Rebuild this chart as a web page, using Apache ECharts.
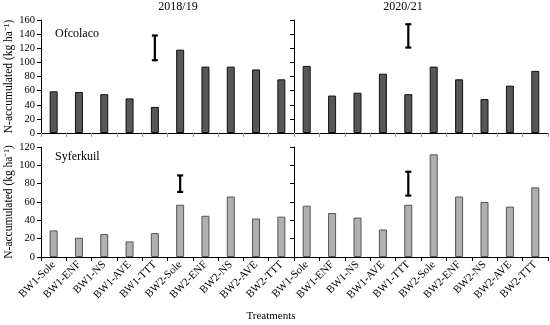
<!DOCTYPE html>
<html><head><meta charset="utf-8">
<script src="https://cdn.jsdelivr.net/npm/echarts@6/dist/echarts.min.js"></script>
<style>html,body{margin:0;padding:0;background:#fff}#c{width:550px;height:325px}</style>
</head><body><div id="c"></div>
<script>
const categories = ['BW1-Sole','BW1-ENF','BW1-NS','BW1-AVE','BW1-TTT','BW2-Sole','BW2-ENF','BW2-NS','BW2-AVE','BW2-TTT'];
const ofcolaco2018 = [59, 58, 55, 49, 37, 118, 94, 94, 90, 76];
const ofcolaco2020 = [95, 53, 57, 84, 55, 94, 76, 48, 67, 88];
const syferkuil2018 = [29, 21, 25, 17, 26, 57, 45, 66, 42, 44];
const syferkuil2020 = [56, 48, 43, 30, 57, 112, 66, 60, 55, 76];
// LSD bars: [category index, low, high]
const lsdOfc2018 = [[4, 103, 138]];
const lsdOfc2020 = [[4, 121, 154]];
const lsdSyf2018 = [[5, 71, 89]];
const lsdSyf2020 = [[4, 67, 93]];

const FONT = 'Liberation Serif';
const chart = echarts.init(document.getElementById('c'), null, {renderer: 'canvas'});
const grids = [
  {left: 41, width: 253, top: 20, height: 113},
  {left: 294, width: 254, top: 20, height: 113},
  {left: 41, width: 253, top: 147, height: 110},
  {left: 294, width: 254, top: 147, height: 110}
];
function xAx(i, showLabel) {
  return {
    type: 'category', gridIndex: i, data: categories,
    axisLine: {lineStyle: {color: '#000', width: 1}},
    axisTick: {show: true, length: 4, lineStyle: {color: showLabel ? '#000' : '#999'}},
    axisLabel: {show: showLabel, rotate: 45, fontFamily: FONT, fontSize: 11, color: '#000', margin: 6, interval: 0}
  };
}
const yName = 'N-accumulated (kg ha\u207B\u00B9)';
function yAx(i, max, showLabel) {
  return {
    type: 'value', gridIndex: i, min: 0, max: max, interval: 20,
    splitLine: {show: false},
    axisLine: {show: true, lineStyle: {color: '#000', width: 1}},
    axisTick: {show: true, length: 4, lineStyle: {color: '#000'}},
    axisLabel: {show: showLabel, fontFamily: FONT, fontSize: 10.5, color: '#000', margin: 6},
    name: showLabel ? yName : '', nameLocation: 'middle', nameGap: 26,
    nameTextStyle: {fontFamily: FONT, fontSize: 11.5, color: '#000'}
  };
}
function bars(i, data, dark) {
  return {
    type: 'bar', xAxisIndex: i, yAxisIndex: i, data: data, barWidth: 8,
    itemStyle: dark ? {color: '#575757', borderColor: '#111', borderWidth: 1}
                    : {color: '#b3afaf', borderColor: '#555', borderWidth: 1},
    silent: true
  };
}
function lsd(i, data) {
  return {
    type: 'custom', xAxisIndex: i, yAxisIndex: i, data: data,
    renderItem: function (params, api) {
      const lo = api.coord([api.value(0), api.value(1)]);
      const hi = api.coord([api.value(0), api.value(2)]);
      const x = lo[0], w = 3;
      const st = {stroke: '#000', lineWidth: 2.2};
      return {type: 'group', children: [
        {type: 'line', shape: {x1: x, y1: lo[1], x2: x, y2: hi[1]}, style: st},
        {type: 'line', shape: {x1: x - w, y1: lo[1], x2: x + w, y2: lo[1]}, style: st},
        {type: 'line', shape: {x1: x - w, y1: hi[1], x2: x + w, y2: hi[1]}, style: st}
      ]};
    }
  };
}
chart.setOption({
  animation: false,
  grid: grids,
  xAxis: [xAx(0, false), xAx(1, false), xAx(2, true), xAx(3, true)],
  yAxis: [yAx(0, 160, true), yAx(1, 160, false), yAx(2, 120, true), yAx(3, 120, false)],
  series: [
    bars(0, ofcolaco2018, true), bars(1, ofcolaco2020, true),
    bars(2, syferkuil2018, false), bars(3, syferkuil2020, false),
    lsd(0, lsdOfc2018), lsd(1, lsdOfc2020), lsd(2, lsdSyf2018), lsd(3, lsdSyf2020)
  ],
  graphic: [
    {type: 'text', x: 178, y: 7, style: {text: '2018/19', fontFamily: FONT, fontSize: 12, fill: '#000', align: 'center', verticalAlign: 'middle'}},
    {type: 'text', x: 403, y: 7, style: {text: '2020/21', fontFamily: FONT, fontSize: 12, fill: '#000', align: 'center', verticalAlign: 'middle'}},
    {type: 'text', x: 55, y: 34, style: {text: 'Ofcolaco', fontFamily: FONT, fontSize: 12, fill: '#000', align: 'left', verticalAlign: 'middle'}},
    {type: 'text', x: 55, y: 157, style: {text: 'Syferkuil', fontFamily: FONT, fontSize: 12, fill: '#000', align: 'left', verticalAlign: 'middle'}},
    {type: 'text', x: 271, y: 316, style: {text: 'Treatments', fontFamily: FONT, fontSize: 11, fill: '#000', align: 'center', verticalAlign: 'middle'}}
  ]
});
</script></body></html>
